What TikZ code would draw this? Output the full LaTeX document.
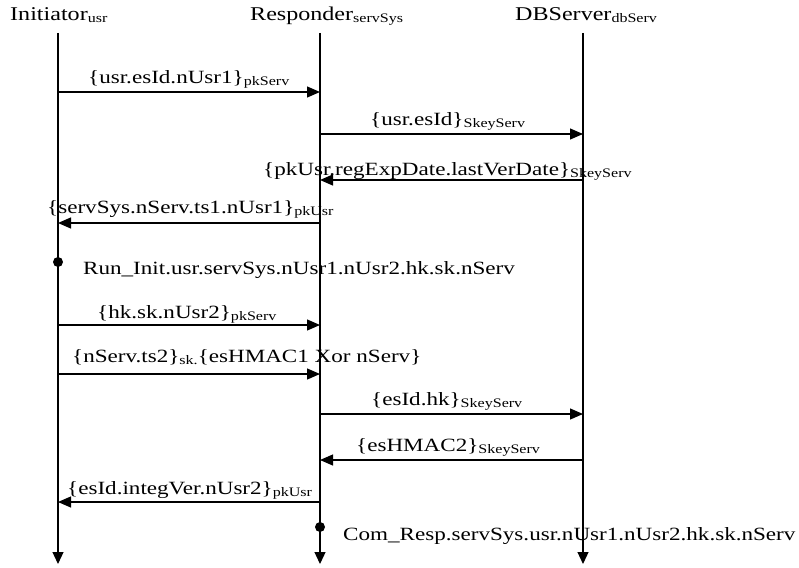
\documentclass[tikz,border=0pt]{standalone}
\usepackage{fontspec}
\setmainfont{Liberation Serif}[FakeStretch=1.235]
\usetikzlibrary{arrows.meta}
\newcommand\ssb[1]{\raisebox{-2pt}{\fontsize{13}{13}\selectfont #1}}
\begin{document}
\begin{tikzpicture}[x=1pt,y=-1pt,
  life/.style={line width=1.2pt,-{Triangle[length=12pt,width=11pt]}},
  msg/.style={line width=1.2pt,-{Triangle[length=13pt,width=11pt]}},
  lbl/.style={anchor=base west,inner sep=0pt,font=\fontsize{18.7}{20}\selectfont},
  hdr/.style={anchor=base west,inner sep=0pt,font=\fontsize{19.5}{21}\selectfont},
  dot/.style={circle,fill=black,inner sep=0pt,minimum size=10pt}]
\useasboundingbox (0,0) rectangle (799,567);
% headers
\node[hdr] (hI) at (10,21) {Initiator\ssb{usr}};
\node[hdr] (hR) at (250,21) {Responder\ssb{servSys}};
\node[hdr] (hD) at (515,21) {DBServer\ssb{dbServ}};
% lifelines
\coordinate (I0) at (58,33);  \coordinate (I1) at (58,564);
\coordinate (R0) at (320,33); \coordinate (R1) at (320,564);
\coordinate (D0) at (583,33); \coordinate (D1) at (583,564);
\draw[life] (I0) -- (I1);
\draw[life] (R0) -- (R1);
\draw[life] (D0) -- (D1);
% message endpoints
\coordinate (i1) at (58,92);   \coordinate (r1) at (320,92);
\coordinate (r2) at (320,134); \coordinate (d2) at (583,134);
\coordinate (d3) at (583,180); \coordinate (r3) at (320,180);
\coordinate (r4) at (320,223); \coordinate (i4) at (58,223);
\coordinate (i6) at (58,325);  \coordinate (r6) at (320,325);
\coordinate (i7) at (58,374);  \coordinate (r7) at (320,374);
\coordinate (r8) at (320,414); \coordinate (d8) at (583,414);
\coordinate (d9) at (583,460); \coordinate (r9) at (320,460);
\coordinate (r10) at (320,502); \coordinate (i10) at (58,502);
\draw[msg] (i1) -- (r1);
\draw[msg] (r2) -- (d2);
\draw[msg] (d3) -- (r3);
\draw[msg] (r4) -- (i4);
\draw[msg] (i6) -- (r6);
\draw[msg] (i7) -- (r7);
\draw[msg] (r8) -- (d8);
\draw[msg] (d9) -- (r9);
\draw[msg] (r10) -- (i10);
% labels
\node[lbl] (l1) at (88,84) {\{usr.esId.nUsr1\}\ssb{pkServ}};
\node[lbl] (l2) at (370,125) {\{usr.esId\}\ssb{SkeyServ}};
\node[lbl] (l3) at (263,175) {\{pkUsr.regExpDate.lastVerDate\}\ssb{SkeyServ}};
\node[lbl] (l4) at (47,213) {\{servSys.nServ.ts1.nUsr1\}\ssb{pkUsr}};
\node[lbl] (l6) at (97,318) {\{hk.sk.nUsr2\}\ssb{pkServ}};
\node[lbl] (l7) at (72,362) {\{nServ.ts2\}\ssb{sk.}\{esHMAC1 Xor nServ\}};
\node[lbl] (l8) at (371,405) {\{esId.hk\}\ssb{SkeyServ}};
\node[lbl] (l9) at (356,451) {\{esHMAC2\}\ssb{SkeyServ}};
\node[lbl] (l10) at (67,494) {\{esId.integVer.nUsr2\}\ssb{pkUsr}};
% local actions
\node[dot] (p1) at (58,262) {};
\node[lbl] (a1) at (83,274) {Run\_Init.usr.servSys.nUsr1.nUsr2.hk.sk.nServ};
\node[dot] (p2) at (320,527) {};
\node[lbl] (a2) at (343,540) {Com\_Resp.servSys.usr.nUsr1.nUsr2.hk.sk.nServ};
\end{tikzpicture}
\end{document}
